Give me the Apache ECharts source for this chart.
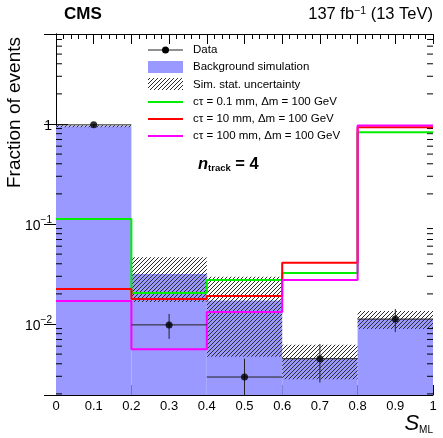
<!DOCTYPE html>
<html>
<head>
<meta charset="utf-8">
<script src="https://cdn.jsdelivr.net/npm/echarts@6/dist/echarts.min.js"></script>
<style>
  html, body { margin: 0; padding: 0; background: #fff; }
  #chart { width: 443px; height: 438px; }
</style>
</head>
<body>
<div id="chart"></div>
<script>
// bins of S_ML
const binEdges = [0, 0.2, 0.4, 0.6, 0.8, 1.0]
const xTickLabels = ['0', '0.1', '0.2', '0.3', '0.4', '0.5', '0.6', '0.7', '0.8', '0.9', '1']

// background simulation and its stat. uncertainty
const bkgFrac = [0.95, 0.0316, 0.0172, 0.0045, 0.0112]
const bkgUnc = [0.02, 0.015, 0.0125, 0.0017, 0.0023]

// data
const dataX = [0.1, 0.3, 0.5, 0.7, 0.9]
const dataFrac = [0.98, 0.0098, 0.00295, 0.0045, 0.0112]
const dataErrUp = [0.02, 0.0028, 0.00155, 0.0018, 0.0029]
const dataErrDown = [0.02, 0.0027, 0.0016, 0.0019, 0.0029]

// signals
const sigCt01 = [0.112, 0.0204, 0.0275, 0.0324, 0.826]
const sigCt10 = [0.0224, 0.0178, 0.019, 0.041, 0.93]
const sigCt100 = [0.017, 0.0056, 0.0132, 0.0275, 0.965]

const Y_MIN = 0.00195
const Y_MAX = 7.94
const FONT = '"Liberation Sans", Arial, Helvetica, sans-serif'

// diagonal hatch like ROOT 3004
function makeHatch() {
  const c = document.createElement('canvas')
  c.width = 4
  c.height = 4
  const g = c.getContext('2d')
  g.strokeStyle = '#2a2a2a'
  g.lineWidth = 1
  g.beginPath()
  g.moveTo(0, 4); g.lineTo(4, 0)
  g.moveTo(-1, 1); g.lineTo(1, -1)
  g.moveTo(3, 5); g.lineTo(5, 3)
  g.stroke()
  return c
}
const hatch = { image: makeHatch(), repeat: 'repeat' }

// minor ticks on the log axis (2..9 per decade)
const yMinor = []
for (let e = -3; e <= 0; e++) {
  for (let m = 2; m <= 9; m++) {
    const v = m * Math.pow(10, e)
    if (v > Y_MIN && v < Y_MAX) yMinor.push([v])
  }
}

const bkgData = bkgFrac.map((v, i) => [binEdges[i], binEdges[i + 1], v])
const uncData = bkgFrac.map((v, i) => [binEdges[i], binEdges[i + 1], v + bkgUnc[i], Math.max(v - bkgUnc[i], Y_MIN)])
const stepData = vals => binEdges.map((e, i) => [e, vals[Math.min(i, vals.length - 1)]])
const errData = dataX.map((x, i) => [x, dataFrac[i], Math.max(dataFrac[i] - dataErrDown[i], Y_MIN), dataFrac[i] + dataErrUp[i], binEdges[i], binEdges[i + 1]])

function rectBetween(api, x0, x1, vTop, vBot, style) {
  const p0 = api.coord([x0, vTop])
  const p1 = api.coord([x1, vBot])
  return {
    type: 'rect',
    shape: { x: p0[0], y: p0[1], width: p1[0] - p0[0], height: p1[1] - p0[1] },
    style
  }
}

function yLabel(v) {
  const e = Math.round(Math.log10(v))
  if (Math.abs(Math.log10(v) - e) > 0.01) return ''
  if (e === 0) return '{b|1}'
  return '{b|10}{sup|' + (e < 0 ? '\u2212' : '') + Math.abs(e) + '}'
}

const xAxisBase = {
  type: 'value',
  min: 0,
  max: 1,
  interval: 0.1,
  axisLine: { lineStyle: { color: '#000', width: 1 } },
  axisTick: { inside: true, length: 10, lineStyle: { color: '#000' } },
  minorTick: { show: true, splitNumber: 5, length: 5, lineStyle: { color: '#000' } },
  splitLine: { show: false },
  minorSplitLine: { show: false }
}
const yAxisBase = {
  type: 'log',
  logBase: 10,
  min: Y_MIN,
  max: Y_MAX,
  axisLine: { show: true, lineStyle: { color: '#000', width: 1 } },
  axisTick: { show: true, inside: true, length: 12, lineStyle: { color: '#000' } },
  splitLine: { show: false }
}

const option = {
  animation: false,
  textStyle: { fontFamily: FONT },
  grid: { left: 56, right: 10, top: 34, bottom: 43, containLabel: false },
  xAxis: [
    Object.assign({}, xAxisBase, {
      position: 'bottom',
      axisLabel: {
        color: '#000', fontSize: 13, fontFamily: FONT, margin: 5,
        formatter: v => xTickLabels[Math.round(v * 10)]
      }
    }),
    Object.assign({}, xAxisBase, { position: 'top', axisLabel: { show: false } })
  ],
  yAxis: [
    Object.assign({}, yAxisBase, {
      position: 'left',
      axisLabel: {
        color: '#000', fontFamily: FONT, margin: 4,
        showMinLabel: false, showMaxLabel: false,
        formatter: yLabel,
        rich: {
          b: { fontSize: 14, fontFamily: FONT, color: '#000', lineHeight: 18, verticalAlign: 'bottom' },
          sup: { fontSize: 10, fontFamily: FONT, color: '#000', lineHeight: 10, verticalAlign: 'top' }
        }
      }
    }),
    Object.assign({}, yAxisBase, { position: 'right', axisLabel: { show: false } })
  ],
  series: [
    {
      name: 'Background simulation',
      type: 'custom',
      z: 1,
      data: bkgData,
      renderItem: (params, api) => rectBetween(api, api.value(0), api.value(1), api.value(2), Y_MIN, { fill: '#9999ff' })
    },
    {
      name: 'Sim. stat. uncertainty',
      type: 'custom',
      z: 2,
      data: uncData,
      renderItem: (params, api) => rectBetween(api, api.value(0), api.value(1), api.value(2), api.value(3), { fill: hatch })
    },
    {
      name: 'minor ticks',
      type: 'custom',
      z: 3,
      silent: true,
      data: yMinor,
      renderItem: (params, api) => {
        const pl = api.coord([0, api.value(0)])
        const pr = api.coord([1, api.value(0)])
        return {
          type: 'group',
          children: [
            { type: 'line', shape: { x1: pl[0], y1: pl[1], x2: pl[0] + 6, y2: pl[1] }, style: { stroke: '#000', lineWidth: 1 } },
            { type: 'line', shape: { x1: pr[0] - 6, y1: pr[1], x2: pr[0], y2: pr[1] }, style: { stroke: '#000', lineWidth: 1 } }
          ]
        }
      }
    },
    {
      name: 'c\u03c4 = 0.1 mm',
      type: 'line',
      step: 'end',
      z: 4,
      showSymbol: false,
      data: stepData(sigCt01),
      lineStyle: { color: '#00ee00', width: 2 }
    },
    {
      name: 'c\u03c4 = 10 mm',
      type: 'line',
      step: 'end',
      z: 4,
      showSymbol: false,
      data: stepData(sigCt10),
      lineStyle: { color: '#ff0000', width: 2 }
    },
    {
      name: 'c\u03c4 = 100 mm',
      type: 'line',
      step: 'end',
      z: 4,
      showSymbol: false,
      data: stepData(sigCt100),
      lineStyle: { color: '#ff00ff', width: 2 }
    },
    {
      name: 'Data errors',
      type: 'custom',
      z: 5,
      data: errData,
      renderItem: (params, api) => {
        const lo = api.coord([api.value(0), api.value(2)])
        const hi = api.coord([api.value(0), api.value(3)])
        const l = api.coord([api.value(4), api.value(1)])
        const r = api.coord([api.value(5), api.value(1)])
        const st = { stroke: '#222', lineWidth: 1 }
        return {
          type: 'group',
          children: [
            { type: 'line', shape: { x1: lo[0], y1: lo[1], x2: hi[0], y2: hi[1] }, style: st },
            { type: 'line', shape: { x1: l[0], y1: l[1], x2: r[0], y2: r[1] }, style: st }
          ]
        }
      }
    },
    {
      name: 'Data',
      type: 'scatter',
      z: 6,
      symbol: 'circle',
      symbolSize: 7,
      itemStyle: { color: '#000' },
      data: dataX.map((x, i) => [x, dataFrac[i]])
    }
  ],
  graphic: [
    { type: 'text', x: 64, y: 14, style: { text: 'CMS', font: 'bold 17px ' + FONT, fill: '#000', verticalAlign: 'middle' } },
    {
      type: 'text', x: 433, y: 14,
      style: {
        text: '137 fb{s|\u22121} (13 TeV)', font: '16.5px ' + FONT, fill: '#000', align: 'right', verticalAlign: 'middle',
        rich: { s: { font: '10.5px ' + FONT, fill: '#000', verticalAlign: 'top', padding: [0, 0, 6, 0] } }
      }
    },
    { type: 'text', x: 15, y: 37, rotation: Math.PI / 2, style: { text: 'Fraction of events', font: '19px ' + FONT, fill: '#000', align: 'right', verticalAlign: 'middle' } },
    {
      type: 'text', x: 433, y: 424,
      style: {
        text: '{s|S}{m|ML}', align: 'right', verticalAlign: 'middle',
        rich: {
          s: { font: 'italic 22px ' + FONT, fill: '#000' },
          m: { font: '10px ' + FONT, fill: '#000', verticalAlign: 'bottom', padding: [8, 0, 0, 0] }
        }
      }
    },
    {
      type: 'text', x: 198, y: 164,
      style: {
        text: '{n|n}{s|track}{t| = 4}', verticalAlign: 'middle',
        rich: {
          n: { font: 'bold italic 16.5px ' + FONT, fill: '#000' },
          s: { font: 'bold 9.5px ' + FONT, fill: '#000', verticalAlign: 'bottom', padding: [8, 0, 0, 0] },
          t: { font: 'bold 16.5px ' + FONT, fill: '#000' }
        }
      }
    },
    // legend
    { type: 'line', shape: { x1: 148, y1: 50, x2: 183, y2: 50 }, style: { stroke: '#222', lineWidth: 1 } },
    { type: 'circle', shape: { cx: 165.5, cy: 50, r: 3.5 }, style: { fill: '#000' } },
    { type: 'rect', shape: { x: 148, y: 61, width: 35, height: 12 }, style: { fill: '#9999ff' } },
    { type: 'rect', shape: { x: 148, y: 78, width: 35, height: 12 }, style: { fill: hatch } },
    { type: 'line', shape: { x1: 148, y1: 102, x2: 183, y2: 102 }, style: { stroke: '#00ee00', lineWidth: 2 } },
    { type: 'line', shape: { x1: 148, y1: 119, x2: 183, y2: 119 }, style: { stroke: '#ff0000', lineWidth: 2 } },
    { type: 'line', shape: { x1: 148, y1: 136, x2: 183, y2: 136 }, style: { stroke: '#ff00ff', lineWidth: 2 } },
    { type: 'text', x: 193, y: 50, style: { text: 'Data', font: '11.5px ' + FONT, fill: '#000', verticalAlign: 'middle' } },
    { type: 'text', x: 193, y: 67, style: { text: 'Background simulation', font: '11.5px ' + FONT, fill: '#000', verticalAlign: 'middle' } },
    { type: 'text', x: 193, y: 84.5, style: { text: 'Sim. stat. uncertainty', font: '11.5px ' + FONT, fill: '#000', verticalAlign: 'middle' } },
    { type: 'text', x: 193, y: 102, style: { text: 'c\u03c4 = 0.1 mm, \u0394m = 100 GeV', font: '11.5px ' + FONT, fill: '#000', verticalAlign: 'middle' } },
    { type: 'text', x: 193, y: 119, style: { text: 'c\u03c4 = 10 mm, \u0394m = 100 GeV', font: '11.5px ' + FONT, fill: '#000', verticalAlign: 'middle' } },
    { type: 'text', x: 193, y: 136, style: { text: 'c\u03c4 = 100 mm, \u0394m = 100 GeV', font: '11.5px ' + FONT, fill: '#000', verticalAlign: 'middle' } }
  ]
}

const chart = echarts.init(document.getElementById('chart'))
chart.setOption(option)
</script>
</body>
</html>
